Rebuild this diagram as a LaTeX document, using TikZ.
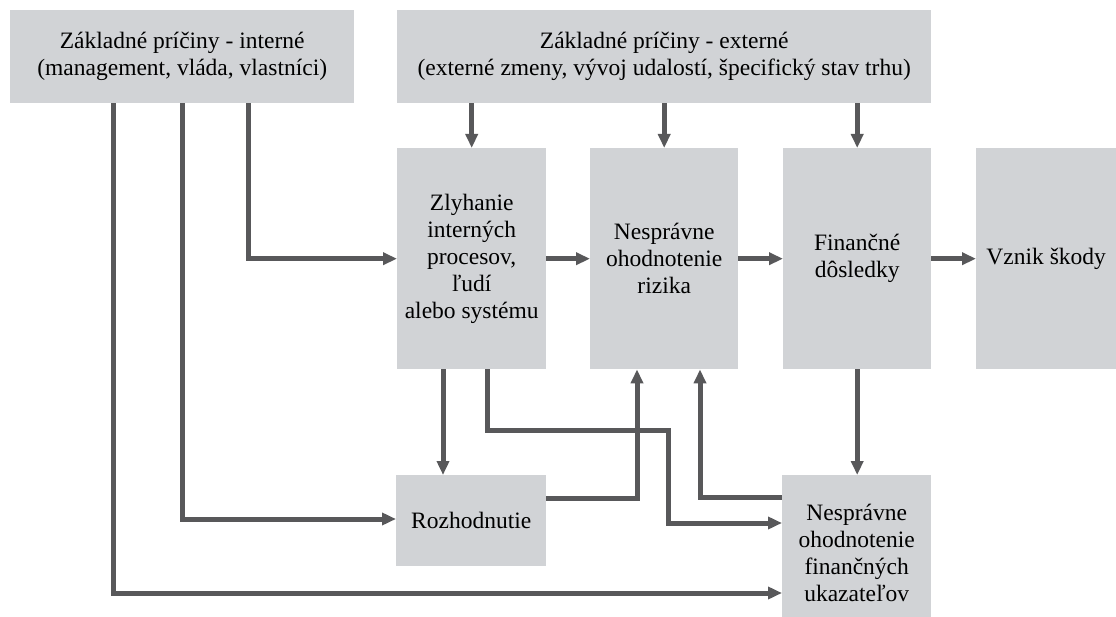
\documentclass[tikz,border=0pt]{standalone}
\usepackage{fontspec}
\setmainfont{Liberation Serif}
\usetikzlibrary{arrows.meta}
\definecolor{boxgray}{RGB}{209,211,214}
\definecolor{linegray}{RGB}{88,88,90}
\begin{document}
\begin{tikzpicture}[x=1pt,y=-1pt,
  box/.style={fill=boxgray, draw=none, inner sep=0pt, align=center,
    font=\fontsize{23.5}{27}\selectfont, anchor=north west},
  arr/.style={draw=linegray, line width=5pt, -{Triangle[length=14pt,width=12pt]}}]
\useasboundingbox (0,0) rectangle (1116,617);
% boxes
\node[box, minimum width=344pt, minimum height=93pt] (int) at (10,10)
  {Základné príčiny - interné\\(management, vláda, vlastníci)};
\node[box, minimum width=534pt, minimum height=93pt] (ext) at (397,10)
  {Základné príčiny - externé\\(externé zmeny, vývoj udalostí, špecifický stav trhu)};
\node[box, minimum width=149pt, minimum height=221pt] (zly) at (397,148)
  {Zlyhanie\\interných\\procesov,\\ľudí\\alebo systému};
\node[box, minimum width=148pt, minimum height=221pt] (riz) at (590,148)
  {Nesprávne\\ohodnotenie\\rizika};
\node[box, minimum width=148pt, minimum height=221pt] (fin) at (783,148)
  {Finančné\\dôsledky};
\node[box, minimum width=140pt, minimum height=221pt] (vzn) at (976,148)
  {Vznik škody};
\node[box, minimum width=150pt, minimum height=91pt] (roz) at (396,475)
  {Rozhodnutie};
\node[box, minimum width=149pt, minimum height=156pt] (nf) at (782,475)
  {Nesprávne\\ohodnotenie\\finančných\\ukazateľov};
% connectors from internal causes
\draw[arr] (int.south -| 113,0) |- (nf.west |- 0,593);
\draw[arr] (int.south -| 182,0) |- (roz.west |- 0,519);
\draw[arr] (int.south -| 248,0) |- (zly.west);
% from external causes
\draw[arr] (ext.south -| zly.north) -- (zly.north);
\draw[arr] (ext.south -| riz.north) -- (riz.north);
\draw[arr] (ext.south -| fin.north) -- (fin.north);
% main chain
\draw[arr] (zly.east) -- (riz.west);
\draw[arr] (riz.east) -- (fin.west);
\draw[arr] (fin.east) -- (vzn.west);
% lower part
\draw[arr] (zly.south -| 443,0) -- (roz.north -| 443,0);
\draw[arr] (zly.south -| 487,0) |- (668,430) |- (nf.west |- 0,523);
\draw[arr] (roz.east |- 0,498) -| (riz.south -| 637,0);
\draw[arr] (nf.west |- 0,497) -| (riz.south -| 700,0);
\draw[arr] (fin.south) -- (nf.north -| fin.south);
\end{tikzpicture}
\end{document}
